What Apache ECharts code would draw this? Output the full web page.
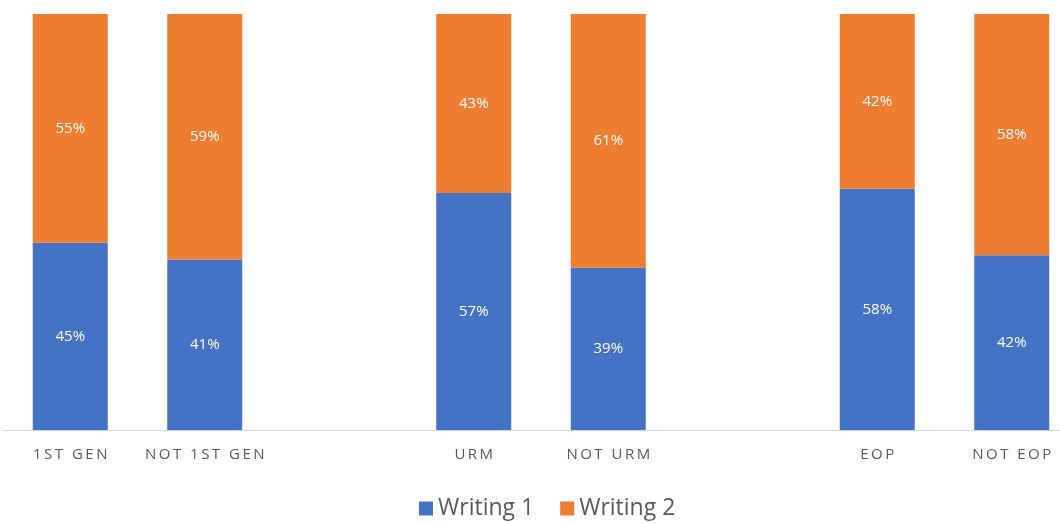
<!DOCTYPE html>
<html><head><meta charset="utf-8">
<script src="https://cdn.jsdelivr.net/npm/echarts@6/dist/echarts.min.js"></script>
<style>html,body{margin:0;padding:0;background:#fff}#c{width:1060px;height:523px}</style>
</head><body><div id="c"></div>
<script>
const categories = ['1ST GEN', 'NOT 1ST GEN', '', 'URM', 'NOT URM', '', 'EOP', 'NOT EOP'];
const writing1 = [45, 41, null, 57, 39, null, 58, 42];
const writing2 = [55, 59, null, 43, 61, null, 42, 58];
const seriesNames = ['Writing 1', 'Writing 2'];

const chart = echarts.init(document.getElementById('c'));
const lbl = {show: true, position: 'inside', color: '#fff', fontSize: 15, fontFamily: 'Open Sans', formatter: p => p.value + '%'};
chart.setOption({
  animation: false,
  grid: {left: 3, top: 14, right: -19, bottom: 93, containLabel: false, outerBoundsMode: 'none'},
  xAxis: {
    type: 'category', data: categories,
    axisLine: {lineStyle: {color: '#d9d9d9', width: 1}},
    axisTick: {show: false},
    axisLabel: {color: '#595959', fontSize: 15, fontFamily: 'Open Sans', margin: 17, interval: 0,
      formatter: v => v.split('').join('\u2009')}
  },
  yAxis: {type: 'value', min: 0, max: 100, show: false, splitLine: {show: false}},
  legend: {
    bottom: -2, left: 414, itemWidth: 14, itemHeight: 14, itemGap: 26, icon: 'rect',
    textStyle: {fontSize: 23, color: '#595959', fontFamily: 'Open Sans'}
  },
  series: [
    {name: seriesNames[0], type: 'bar', stack: 's', data: writing1, barWidth: 75, itemStyle: {color: '#4472C4'}, label: lbl},
    {name: seriesNames[1], type: 'bar', stack: 's', data: writing2, barWidth: 75, itemStyle: {color: '#ED7D31'}, label: lbl}
  ]
});
</script></body></html>
